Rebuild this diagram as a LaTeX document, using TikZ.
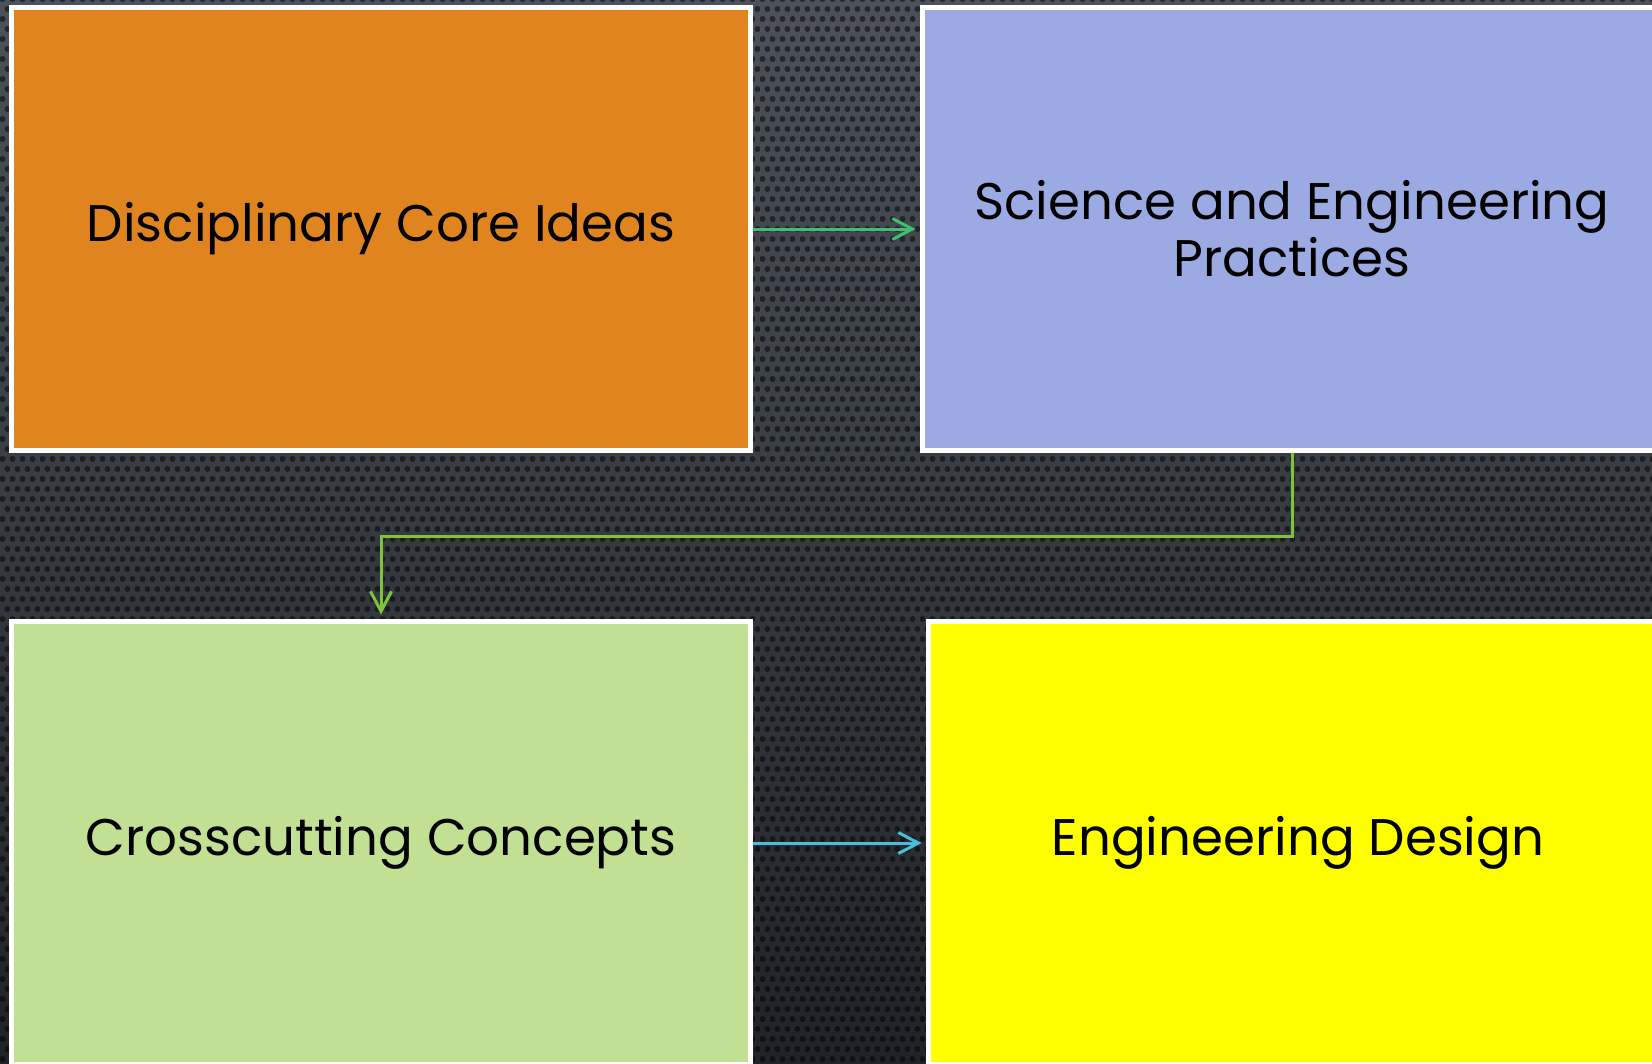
\documentclass[tikz,border=0pt]{standalone}
\usepackage{fontspec}
\setmainfont{Poppins}
\usetikzlibrary{arrows.meta,patterns.meta}

\definecolor{bgtop}{RGB}{76,81,90}
\definecolor{bgmid}{RGB}{48,52,58}
\definecolor{bgbottom}{RGB}{32,35,39}
\definecolor{coreorange}{RGB}{224,132,32}
\definecolor{practiceblue}{RGB}{155,170,226}
\definecolor{conceptgreen}{RGB}{193,224,148}
\definecolor{designyellow}{RGB}{255,255,0}
\definecolor{flowteal}{RGB}{64,190,112}
\definecolor{flowlime}{RGB}{125,195,60}
\definecolor{flowcyan}{RGB}{75,190,215}

\tikzdeclarepattern{
	name=holes,
	type=uncolored,
	bounding box={(0,0) and (0.2cm,0.4cm)},
	tile size={(0.2cm,0.4cm)},
	code={
		\fill (0.05cm,0.1cm) circle (0.06cm);
		\fill (0.15cm,0.3cm) circle (0.06cm);
	}
}

\begin{document}
\begin{tikzpicture}[x=0.02cm, y=-0.02cm]
	\tikzset{
		block/.style={draw=white, line width=0.1cm, minimum width=14.8cm, minimum height=8.88cm,
			inner sep=0pt, align=center, text=black, font=\fontsize{29.3}{32.4}\selectfont},
		flow/.style={line width=0.06cm, -{Straight Barb[length=0.4cm, width=0.42cm]}, shorten >=0.08cm}
	}

	\clip (0, 0) rectangle (1652, 1063);
	\shade[top color=bgtop, middle color=bgmid, bottom color=bgbottom] (0, 0) rectangle (1652, 1063);
	\fill[pattern=holes, pattern color=black, fill opacity=0.5] (0, 0) rectangle (1652, 1063);

	\node[block, fill=coreorange] (ideas) at (381, 229) {Disciplinary Core Ideas};
	\node[block, fill=practiceblue] (practices) at (1292, 229) {Science and Engineering\\Practices};
	\node[block, fill=conceptgreen] (concepts) at (381, 843) {Crosscutting Concepts};
	\node[block, fill=designyellow] (design) at (1298, 843) {Engineering Design};

	\draw[flow, flowteal] (ideas) -- (practices);
	\draw[flow, flowlime] (practices.south) -- ++(0, 83) -| (concepts.north);
	\draw[flow, flowcyan] (concepts) -- (design);
\end{tikzpicture}
\end{document}
